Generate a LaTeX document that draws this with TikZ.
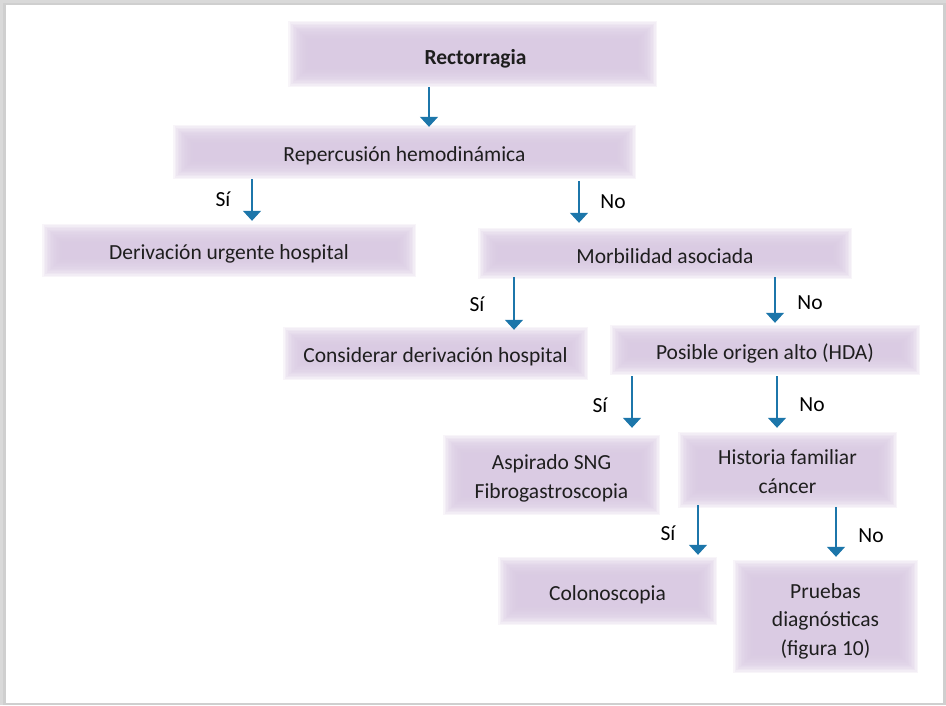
\documentclass[tikz,border=0pt]{standalone}
\usepackage{fontspec}
\setmainfont{Carlito}
\usetikzlibrary{arrows.meta}
\definecolor{boxcol}{RGB}{218,202,227}
\definecolor{arrcol}{RGB}{28,118,170}
\definecolor{txt}{RGB}{30,30,30}
\tikzset{
  fbox/.style={inner sep=0pt, fill=white,
    path picture={
      \foreach \i in {0,...,13}{
        \fill[boxcol, fill opacity=0.18]
          ([shift={(\i*1.5pt,-\i*1.4pt)}]path picture bounding box.north west) rectangle
          ([shift={(-\i*1.5pt,\i*1.4pt)}]path picture bounding box.south east);
      }
    }},
  btext/.style={inner sep=0pt, align=center, text=txt, font=\fontsize{21.5}{28.5}\selectfont},
  arr/.style={draw=arrcol, line width=1.3pt, -{Triangle[width=18pt,length=10pt]}},
  lab/.style={font=\fontsize{21.5}{24}\selectfont, text=black, inner sep=0pt}
}
\begin{document}
\begin{tikzpicture}[x=1pt,y=-1pt]
\useasboundingbox (0,0) rectangle (946,705);
% page frame with shadow
\fill[gray!30] (0,0) rectangle (946,705);
\fill[gray!38] (3,2.5) rectangle (946,705);
\fill[white] (6,5) rectangle (943,703);

% boxes
\node[fbox, minimum width=369pt, minimum height=66pt] (rect) at (472.5,54) {};
\node[fbox, minimum width=463pt, minimum height=54pt] (rep) at (404.5,152) {};
\node[fbox, minimum width=374pt, minimum height=53pt] (der) at (229,250.5) {};
\node[fbox, minimum width=374pt, minimum height=51pt] (mor) at (665,253.5) {};
\node[fbox, minimum width=305pt, minimum height=53pt] (con) at (435.5,353.5) {};
\node[fbox, minimum width=310pt, minimum height=50pt] (pos) at (765,350) {};
\node[fbox, minimum width=217pt, minimum height=80pt] (asp) at (551.5,475) {};
\node[fbox, minimum width=219pt, minimum height=76pt] (his) at (787.5,470) {};
\node[fbox, minimum width=219pt, minimum height=68pt] (col) at (607.5,591) {};
\node[fbox, minimum width=185pt, minimum height=113pt] (pru) at (825.5,616.5) {};

% box texts
\node[btext] (rectT) at ([xshift=3pt,yshift=-5pt]rect.center) {\textbf{Rectorragia}};
\node[btext] (repT) at ([yshift=-3.5pt]rep.center) {Repercusión hemodinámica};
\node[btext] (derT) at ([yshift=-3pt]der.center) {Derivación urgente hospital};
\node[btext] (morT) at ([yshift=-3pt]mor.center) {Morbilidad asociada};
\node[btext] (conT) at ([yshift=-3pt]con.center) {Considerar derivación hospital};
\node[btext] (posT) at ([yshift=-3pt]pos.center) {Posible origen alto (HDA)};
\node[btext] (aspT) at ([yshift=-3.5pt]asp.center) {Aspirado SNG\\Fibrogastroscopia};
\node[btext] (hisT) at ([yshift=-1.5pt]his.center) {Historia familiar\\cáncer};
\node[btext] (colT) at ([yshift=-3.5pt]col.center) {Colonoscopia};
\node[btext] (pruT) at ([yshift=-4.5pt]pru.center) {Pruebas\\diagnósticas\\(figura 10)};

% arrow x positions
\coordinate (x1) at (429,0);
\coordinate (x2) at (252,0);
\coordinate (x3) at (579,0);
\coordinate (x4) at (514,0);
\coordinate (x5) at (775,0);
\coordinate (x6) at (632,0);
\coordinate (x7) at (777,0);
\coordinate (x8) at (698,0);
\coordinate (x9) at (836,0);

\draw[arr, shorten >=-2pt] (rect.south -| x1) -- (rep.north -| x1);
\draw[arr, shorten >=3pt] (rep.south -| x2) -- (der.north -| x2);
\draw[arr, shorten <=2pt, shorten >=5pt] (rep.south -| x3) -- (mor.north -| x3);
\draw[arr, shorten <=-2pt, shorten >=-3pt] (mor.south -| x4) -- (con.north -| x4);
\draw[arr, shorten <=-2pt, shorten >=2pt] (mor.south -| x5) -- (pos.north -| x5);
\draw[arr, shorten <=1pt, shorten >=7pt] (pos.south -| x6) -- (asp.north -| x6);
\draw[arr, shorten <=1pt, shorten >=4pt] (pos.south -| x7) -- (his.north -| x7);
\draw[arr, shorten <=-3pt, shorten >=2pt] (his.south -| x8) -- (col.north -| x8);
\draw[arr, shorten <=-1pt, shorten >=3pt] (his.south -| x9) -- (pru.north -| x9);

% labels
\node[lab] (l1) at (223,199) {Sí};
\node[lab] (l2) at (613,202) {No};
\node[lab] (l3) at (477,304) {Sí};
\node[lab] (l4) at (810,303) {No};
\node[lab] (l5) at (600,405) {Sí};
\node[lab] (l6) at (812,405) {No};
\node[lab] (l7) at (668,533) {Sí};
\node[lab] (l8) at (871,536) {No};
\end{tikzpicture}
\end{document}
